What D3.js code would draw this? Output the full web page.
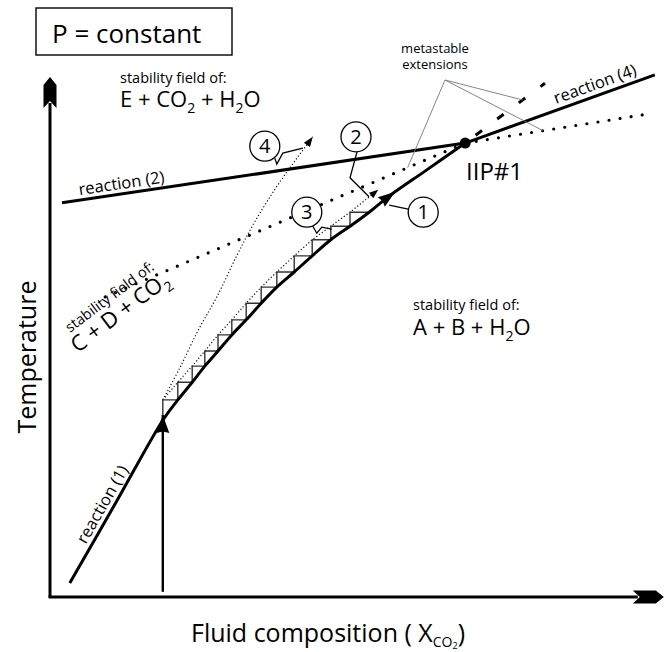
<!DOCTYPE html>
<html><head><meta charset="utf-8">
<script src="https://cdn.jsdelivr.net/npm/d3@7"></script>
<style>
html,body{margin:0;padding:0;background:#fff;}
svg text{font-family:"Open Sans",sans-serif;fill:#000;}
</style></head><body>
<svg id="chart" width="669" height="652"></svg>
<script>
// Isobaric T–X(CO2) diagram, relative units (X: 0–100, T: 0–100)

// reaction (1) curve
const rxn1X = [3.3, 11.1, 18.8, 21.3, 23.7, 25.8, 28.0, 30.3, 32.7, 35.2, 37.8, 40.7, 43.7, 46.8, 50.0, 53.2, 56.3, 62.5, 69.2];
const rxn1T = [2.7, 18.4, 34.0, 37.9, 41.3, 44.4, 47.3, 50.4, 53.3, 56.5, 59.6, 62.5, 65.6, 68.7, 71.3, 74.0, 76.9, 81.9, 87.3];
// invariant point IIP#1
const iipX = [69.2];
const iipT = [87.3];
// reaction (2), reaction (4) and metastable extensions (ending at IIP#1)
const rxn2X = [2.0, 69.2],   rxn2T = [75.8, 87.3];
const rxn2MetaX = [69.2, 98.7], rxn2MetaT = [87.3, 92.7];
const rxn4X = [69.2, 100.8], rxn4T = [87.3, 100.4];
const rxn4MetaX = [9.2, 69.2],  rxn4MetaT = [57.7, 87.3];
const rxn1MetaX = [69.2, 82.5], rxn1MetaT = [87.3, 98.8];
// path 3: stepwise heating / fluid infiltration along reaction (1)
const stepX = [18.8, 21.3, 23.7, 25.8, 28.0, 30.3, 32.7, 35.2, 37.8, 40.7, 43.7, 46.8, 50.0, 53.2];
const stepT = [34.0, 37.9, 41.3, 44.4, 47.3, 50.4, 53.3, 56.5, 59.6, 62.5, 65.6, 68.7, 71.3, 74.0];
// path 1: isobaric heating at fixed X, then along reaction (1)
const heatX = [18.8, 18.8], heatT = [1.0, 35.0];
const path1TipX = [57.5], path1TipT = [77.9];
// path 2 end, path 4 trajectory
const path2EndX = [54.7], path2EndT = [78.3];
const path4X = [18.8, 21.7, 24.7, 27.8, 31.2, 34.2, 38.3, 43.8];
const path4T = [37.9, 44.2, 51.3, 57.7, 65.8, 72.3, 79.8, 88.5];
// numbered path markers
const markerLabels = ["1", "2", "3", "4"];
const markerX = [62.2, 51.0, 42.8, 35.8];
const markerT = [74.0, 88.5, 74.0, 86.7];

const svg = d3.select("#chart");
const x = d3.scaleLinear().domain([0, 100]).range([50, 650]);
const y = d3.scaleLinear().domain([0, 100]).range([597, 77]);
const zip = (xs, ts) => xs.map((v, i) => [v, ts[i]]);
const line = d3.line().x(d => x(d[0])).y(d => y(d[1]));
const smooth = d3.line().x(d => x(d[0])).y(d => y(d[1])).curve(d3.curveCatmullRom.alpha(0.5));

function arrowHead(px, py, angle, len, hw, notch, g) {
  (g || svg).append("path")
    .attr("d", `M0,0L${-len},${-hw}L${-len + notch},0L${-len},${hw}Z`)
    .attr("transform", `translate(${px},${py}) rotate(${angle})`)
    .attr("fill", "#000");
}
const deg = (a, b) => Math.atan2(b[1] - a[1], b[0] - a[0]) * 180 / Math.PI;
const P = (xv, tv) => [x(xv), y(tv)];

// axes
const axisHead = "M0,0L-8,-6.5L-31,-6.5L-24,0L-31,6.5L-8,6.5Z";
svg.append("line").attr("x1", x(0)).attr("y1", y(0)).attr("x2", x(0)).attr("y2", y(100) + 26)
  .attr("stroke", "#000").attr("stroke-width", 3);
svg.append("path").attr("d", axisHead).attr("transform", `translate(${x(0)},${y(100)}) rotate(-90)`);
svg.append("line").attr("x1", x(0) - 1.5).attr("y1", y(0)).attr("x2", x(102.3) - 26).attr("y2", y(0))
  .attr("stroke", "#000").attr("stroke-width", 3);
svg.append("path").attr("d", axisHead).attr("transform", `translate(${x(102.3)},${y(0)})`);

// metastable extensions
svg.append("path").datum(zip(rxn4MetaX, rxn4MetaT)).attr("d", line)
  .attr("fill", "none").attr("stroke", "#000").attr("stroke-width", 3.2)
  .attr("stroke-linecap", "round").attr("stroke-dasharray", "0,11.2");
svg.append("path").datum(zip(rxn2MetaX, rxn2MetaT)).attr("d", line)
  .attr("fill", "none").attr("stroke", "#000").attr("stroke-width", 3.2)
  .attr("stroke-linecap", "round").attr("stroke-dasharray", "0,11.2");
svg.append("path").datum(zip(rxn1MetaX, rxn1MetaT)).attr("d", line)
  .attr("fill", "none").attr("stroke", "#000").attr("stroke-width", 3)
  .attr("stroke-dasharray", "0,13,8,6");

// path 4 (fine dots)
const p4 = zip(path4X, path4T);
svg.append("path").datum(p4).attr("d", smooth)
  .attr("fill", "none").attr("stroke", "#111").attr("stroke-width", 1.2).attr("stroke-dasharray", "1.2,2.2");
{
  const a = P(...p4[p4.length - 2]), b = P(...p4[p4.length - 1]);
  arrowHead(b[0], b[1], deg(a, b), 10, 3.8, 0);
}

// path 2 (fine dots through the step corners)
const corners = stepX.slice(0, -1).map((v, i) => [v, stepT[i + 1]]);
corners.push([path2EndX[0], path2EndT[0]]);
svg.append("path").datum(corners).attr("d", line)
  .attr("fill", "none").attr("stroke", "#111").attr("stroke-width", 1.2).attr("stroke-dasharray", "1.2,2.2");
{
  const a = P(...corners[corners.length - 2]), b = P(...corners[corners.length - 1]);
  arrowHead(b[0], b[1], deg(a, b), 9, 3.5, 0);
}

// path 3 staircase
let stair = [];
for (let i = 0; i < stepX.length - 1; i++) {
  stair.push(`M${x(stepX[i])},${y(stepT[i])}V${y(stepT[i + 1])}H${x(stepX[i + 1])}`);
}
svg.append("path").attr("d", stair.join(""))
  .attr("fill", "none").attr("stroke", "#333").attr("stroke-width", 1.4);

// reactions
svg.append("path").datum(zip(rxn1X, rxn1T)).attr("d", smooth)
  .attr("fill", "none").attr("stroke", "#000").attr("stroke-width", 3);
svg.append("path").datum(zip(rxn2X, rxn2T)).attr("d", line)
  .attr("fill", "none").attr("stroke", "#000").attr("stroke-width", 3);
svg.append("path").datum(zip(rxn4X, rxn4T)).attr("d", line)
  .attr("fill", "none").attr("stroke", "#000").attr("stroke-width", 3);

// path 1: vertical heating line and arrow on reaction (1)
svg.append("path").datum(zip(heatX, heatT)).attr("d", line)
  .attr("stroke", "#000").attr("stroke-width", 2.4);
arrowHead(x(heatX[1]), y(heatT[1]), -90, 18, 6.5, 1.5);
{
  const a = P(rxn1X[15], rxn1T[15]), b = P(rxn1X[17], rxn1T[17]);
  arrowHead(x(path1TipX[0]), y(path1TipT[0]), deg(a, b), 17, 6, 1.5);
}

// invariant point
svg.append("circle").attr("cx", x(iipX[0])).attr("cy", y(iipT[0])).attr("r", 5.5).attr("fill", "#000");

// leader lines for "metastable extensions"
const hub = [445, 80];
const leaderTargets = [
  d3.interpolate(P(rxn4MetaX[0], rxn4MetaT[0]), P(rxn4MetaX[1], rxn4MetaT[1]))(0.84),
  d3.interpolate(P(rxn1MetaX[0], rxn1MetaT[0]), P(rxn1MetaX[1], rxn1MetaT[1]))(0.72),
  d3.interpolate(P(rxn2MetaX[0], rxn2MetaT[0]), P(rxn2MetaX[1], rxn2MetaT[1]))(0.44)
];
leaderTargets.forEach(t => {
  svg.append("line").attr("x1", hub[0]).attr("y1", hub[1]).attr("x2", t[0]).attr("y2", t[1])
    .attr("stroke", "#777").attr("stroke-width", 0.9);
});

// numbered markers with their leaders
const markerLeaders = [
  [[-15, -3], [-34, -7]],
  [[1, 15], [-6, 41], [13, 60]],
  [[6, 14], [10, 21], [15, 15], [25, 17]],
  [[10, 12], [12, 18], [18, 7], [38, 2]]
];
markerLabels.forEach((lab, i) => {
  const cx = x(markerX[i]), cy = y(markerT[i]);
  svg.append("path").attr("d", d3.line()(markerLeaders[i].map(p => [cx + p[0], cy + p[1]])))
    .attr("fill", "none").attr("stroke", "#000").attr("stroke-width", 1.3);
  svg.append("circle").attr("cx", cx).attr("cy", cy).attr("r", 15)
    .attr("fill", "#fff").attr("stroke", "#000").attr("stroke-width", 1.3);
  svg.append("text").attr("x", cx).attr("y", cy + 7).attr("text-anchor", "middle")
    .attr("font-size", 20).text(lab);
});

// chemistry text with subscripts: shift applied on the tspan that changes level
function chem(sel, parts, base, sub) {
  const drop = base * 0.28;
  let level = 0;
  parts.forEach(([t, s]) => {
    const dy = (s ? drop : 0) - level;
    level = s ? drop : 0;
    sel.append("tspan").attr("font-size", s ? sub : base).attr("dy", dy).text(t);
  });
  return sel;
}

// title box
svg.append("rect").attr("x", 36).attr("y", 8).attr("width", 196).attr("height", 47)
  .attr("fill", "none").attr("stroke", "#000").attr("stroke-width", 1.4);
svg.append("text").attr("x", 52).attr("y", 43).attr("font-size", 26).text("P = constant");

// stability fields
svg.append("text").attr("x", 120).attr("y", 83).attr("font-size", 14.5).text("stability field of:");
chem(svg.append("text").attr("x", 120).attr("y", 107).attr("font-size", 22),
  [["E + CO", 0], ["2", 1], [" + H", 0], ["2", 1], ["O", 0]], 22, 14);
svg.append("text").attr("x", 413).attr("y", 310).attr("font-size", 14.5).text("stability field of:");
chem(svg.append("text").attr("x", 413).attr("y", 335).attr("font-size", 22),
  [["A + B + H", 0], ["2", 1], ["O", 0]], 22, 14);
{
  const g = svg.append("g").attr("transform", "translate(70,333) rotate(-37)");
  g.append("text").attr("x", 0).attr("y", 0).attr("font-size", 14.5).text("stability field of:");
  chem(g.append("text").attr("x", -6).attr("y", 21).attr("font-size", 22),
    [["C + D + CO", 0], ["2", 1]], 22, 14);
}

// metastable label and IIP
svg.append("text").attr("x", 435).attr("y", 53).attr("text-anchor", "middle").attr("font-size", 13).text("metastable");
svg.append("text").attr("x", 435).attr("y", 69).attr("text-anchor", "middle").attr("font-size", 13).text("extensions");
svg.append("text").attr("x", 466).attr("y", 180).attr("font-size", 24).text("IIP#1");

// reaction labels along their curves
function alongLabel(txt, a, b, frac, off, size, anchor) {
  const pa = P(...a), pb = P(...b);
  const ang = deg(pa, pb);
  const pt = d3.interpolate(pa, pb)(frac);
  svg.append("text").attr("transform", `translate(${pt[0]},${pt[1]}) rotate(${ang})`)
    .attr("y", -off).attr("font-size", size).attr("text-anchor", anchor).text(txt);
}
alongLabel("reaction (2)", [rxn2X[0], rxn2T[0]], [rxn2X[1], rxn2T[1]], 0.045, 5, 16.5, "start");
alongLabel("reaction (4)", [rxn4X[0], rxn4T[0]], [rxn4X[1], rxn4T[1]], 0.49, 6, 16.5, "start");
alongLabel("reaction (1)", [rxn1X[0], rxn1T[0]], [rxn1X[2], rxn1T[2]], 0.45, 5, 16.5, "middle");

// axis titles
svg.append("text").attr("transform", "translate(36,357) rotate(-90)").attr("text-anchor", "middle")
  .attr("font-size", 25).text("Temperature");
{
  const t = svg.append("text").attr("x", 191).attr("y", 642).attr("font-size", 25);
  t.append("tspan").text("Fluid composition ( X");
  t.append("tspan").attr("font-size", 14).attr("dy", 5).text("CO");
  t.append("tspan").attr("font-size", 9).attr("dy", 2).text("2");
  t.append("tspan").attr("dy", -7).text(")");
}
</script>
</body></html>
